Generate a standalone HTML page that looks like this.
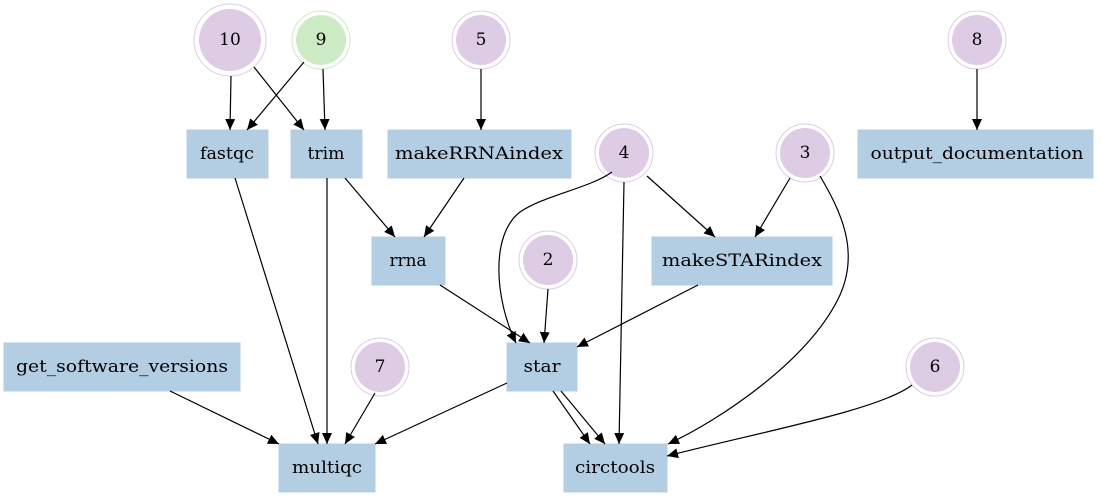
<!DOCTYPE html>
<html><head><meta charset="utf-8"><style>
html,body{margin:0;padding:0;background:#fff;}
svg{display:block;}
text{font-family:"DejaVu Serif","Liberation Serif",serif;font-size:17px;fill:#000;text-anchor:middle;dominant-baseline:central;}
</style></head><body>
<svg width="1101" height="498" viewBox="0 0 1101 498" xmlns="http://www.w3.org/2000/svg">
<defs>
<marker id="a" markerUnits="userSpaceOnUse" markerWidth="12" markerHeight="10" refX="11" refY="5" orient="auto">
<path d="M0,0 L11,5 L0,10 Z" fill="#000"/>
</marker>
</defs>
<g fill="#b3cde3" stroke="#b3cde3">
<rect x="187" y="130" width="81" height="48"/>
<rect x="291" y="130" width="71" height="48"/>
<rect x="388" y="130" width="183" height="48"/>
<rect x="858" y="130" width="235" height="48"/>
<rect x="372" y="237" width="73" height="48"/>
<rect x="652" y="237" width="180" height="48"/>
<rect x="4" y="343" width="236" height="48"/>
<rect x="507" y="343" width="70" height="48"/>
<rect x="279" y="444" width="96" height="48"/>
<rect x="564" y="444" width="103" height="48"/>
</g>
<g stroke="#decbe4" stroke-width="1" fill="none">
<circle cx="230" cy="40" r="36"/>
<circle cx="481" cy="40" r="29"/>
<circle cx="977" cy="40" r="29"/>
<circle cx="624" cy="153" r="29"/>
<circle cx="805" cy="153" r="29"/>
<circle cx="548" cy="260" r="29"/>
<circle cx="380" cy="367" r="29"/>
<circle cx="935" cy="367" r="29"/>
</g>
<circle cx="321" cy="40" r="29" stroke="#ccebc5" fill="none"/>
<g fill="#decbe4">
<circle cx="230" cy="40" r="31"/>
<circle cx="481" cy="40" r="25"/>
<circle cx="977" cy="40" r="25"/>
<circle cx="624" cy="153" r="25"/>
<circle cx="805" cy="153" r="25"/>
<circle cx="548" cy="260" r="25"/>
<circle cx="380" cy="367" r="25"/>
<circle cx="935" cy="367" r="25"/>
</g>
<circle cx="321" cy="40" r="25" fill="#ccebc5"/>
<g stroke="#000" stroke-width="1.2" fill="none" marker-end="url(#a)">
<path d="M231,76 L230,130"/>
<path d="M254,67 L304,130"/>
<path d="M304,62 L247,130"/>
<path d="M323,69 L325,130"/>
<path d="M481,69 L481,130"/>
<path d="M977,69 L977,130"/>
<path d="M235,178 L318,444"/>
<path d="M327,178 L327,444"/>
<path d="M345,178 L395,237"/>
<path d="M464,178 L424,237"/>
<path d="M612,172 C590,188 545,195 520,212 C490,235 495,300 516,343"/>
<path d="M624,182 L619,444"/>
<path d="M647,176 L715,237"/>
<path d="M790,178 L755,237"/>
<path d="M820,176 C840,210 860,250 840,295 C810,360 720,420 668,444"/>
<path d="M548,289 L544,343"/>
<path d="M440,285 L530,343"/>
<path d="M698,285 L577,347"/>
<path d="M507,383 L375,444"/>
<path d="M553,391 L590,444"/>
<path d="M561,391 L605,444"/>
<path d="M375,393 L345,444"/>
<path d="M170,391 L279,444"/>
<path d="M912,385 C880,410 760,432 667,456"/>
</g>
<text x="230" y="40">10</text>
<text x="321" y="40">9</text>
<text x="481" y="40">5</text>
<text x="977" y="40">8</text>
<text x="624" y="153">4</text>
<text x="805" y="153">3</text>
<text x="548" y="260">2</text>
<text x="380" y="367">7</text>
<text x="935" y="367">6</text>
<g style="font-size:16px">
<text x="227" y="154" textLength="54" lengthAdjust="spacingAndGlyphs">fastqc</text>
<text x="326" y="154" textLength="37" lengthAdjust="spacingAndGlyphs">trim</text>
<text x="479" y="154" textLength="168" lengthAdjust="spacingAndGlyphs">makeRRNAindex</text>
<text x="977" y="154" textLength="213" lengthAdjust="spacingAndGlyphs">output_documentation</text>
<text x="408" y="261" textLength="37" lengthAdjust="spacingAndGlyphs">rrna</text>
<text x="742" y="261" textLength="160" lengthAdjust="spacingAndGlyphs">makeSTARindex</text>
<text x="122" y="367" textLength="212" lengthAdjust="spacingAndGlyphs">get_software_versions</text>
<text x="542" y="367" textLength="37" lengthAdjust="spacingAndGlyphs">star</text>
<text x="327" y="468" textLength="70" lengthAdjust="spacingAndGlyphs">multiqc</text>
<text x="615" y="468" textLength="80" lengthAdjust="spacingAndGlyphs">circtools</text>
</g>
</svg>
</body></html>
